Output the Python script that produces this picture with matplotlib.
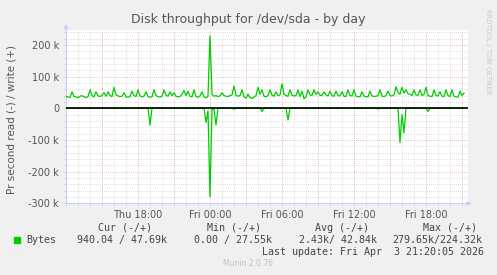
import numpy as np
import pandas as pd
import matplotlib
matplotlib.use("Agg")
import matplotlib.pyplot as plt
import matplotlib.dates as mdates

# 10 minute samples, Thu 12:00 -> Fri 21:10, values in kB/s
start = "2026-04-02 12:00"
write_k = [38, 35, 34, 52, 37, 36, 33, 38, 40, 36, 34, 37, 58, 40, 36, 52, 39, 37, 41, 49,
           38, 52, 40, 37, 66, 42, 39, 37, 38, 49, 36, 35, 37, 54, 40, 37, 58, 39, 36, 38,
           52, 37, 35, 36, 58, 40, 37, 35, 38, 58, 41, 38, 52, 40, 49, 38, 36, 37, 44, 56,
           40, 54, 38, 36, 58, 37, 35, 39, 52, 36, 33, 38, 228, 44, 38, 40, 37, 39, 49, 40,
           38, 37, 40, 42, 70, 41, 38, 40, 58, 36, 32, 45, 33, 31, 35, 40, 66, 44, 58, 38,
           36, 40, 58, 41, 38, 52, 40, 42, 77, 44, 40, 38, 58, 41, 39, 40, 58, 37, 54, 30,
           36, 58, 42, 40, 58, 44, 52, 41, 40, 52, 42, 39, 54, 40, 38, 54, 40, 39, 52, 38,
           37, 58, 40, 39, 58, 38, 37, 36, 52, 38, 37, 36, 54, 39, 37, 38, 40, 58, 38, 37,
           40, 54, 40, 39, 42, 68, 50, 44, 66, 48, 58, 46, 44, 40, 58, 42, 41, 58, 40, 44,
           66, 40, 38, 37, 58, 40, 39, 52, 38, 37, 58, 40, 37, 58, 38, 36, 35, 54, 40, 47.7]
read_k = [0, 0, 0, 0, 0, 0, 0, 0, 0, 0, 0, 0, 0, 0, 0, 0, 0, 0, 0, 0,
          0, 0, 0, 0, 0, 0, 0, 0, 0, 0, 0, 0, 0, 0, 0, 0, 0, 0, 0, 0,
          0, 0, 53, 0, 0, 0, 0, 0, 0, 0, 0, 0, 0, 0, 0, 0, 0, 0, 0, 0,
          0, 0, 0, 0, 0, 0, 0, 0, 0, 0, 45, 8, 279.65, 4, 3, 53, 0, 0, 0, 0,
          0, 0, 0, 0, 3, 0, 0, 0, 0, 0, 0, 0, 0, 0, 0, 0, 0, 0, 10, 0,
          0, 0, 0, 0, 0, 0, 0, 0, 0, 0, 0, 37, 0, 0, 0, 0, 0, 0, 0, 0,
          0, 0, 0, 0, 0, 0, 0, 0, 0, 0, 0, 0, 0, 0, 0, 0, 0, 0, 0, 0,
          0, 0, 0, 0, 0, 0, 0, 0, 0, 0, 0, 0, 0, 0, 0, 0, 2, 0, 0, 0,
          0, 0, 0, 0, 0, 0, 0, 108, 20, 77, 0, 0, 0, 0, 0, 0, 0, 0, 0, 0,
          0, 10, 0, 0, 0, 0, 0, 0, 0, 0, 0, 0, 0, 0, 0, 0, 0, 0, 0, 0.94]

y_ticks = [-300, -200, -100, 0, 100, 200]
y_labels = ["-300 k", "-200 k", "-100 k", "0", "100 k", "200 k"]
x_labels = ["Thu 18:00", "Fri 00:00", "Fri 06:00", "Fri 12:00", "Fri 18:00"]
legend_heads = ["Cur (-/+)", "Min (-/+)", "Avg (-/+)", "Max (-/+)"]
legend_vals = ["940.04 / 47.69k", "0.00 / 27.55k", "2.43k/ 42.84k", "279.65k/224.32k"]
last_update = "Last update: Fri Apr  3 21:20:05 2026"

W, H = 497, 275
bg = "#f0f0f0"
green = "#00cc00"
txt = "#555555"
axis_col = "#c8d0f8"


def px(x, y):
    return x / W, 1 - y / H


fig = plt.figure(figsize=(W / 100, H / 100), dpi=100, facecolor=bg)
l, r, top, bot = 66, 468, 30, 203.3
ax = fig.add_axes([l / W, 1 - bot / H, (r - l) / W, (bot - top) / H])
ax.set_facecolor("white")

times = pd.date_range(start, periods=len(write_k), freq="10min")
ax.plot(times, write_k, color=green, lw=0.9, zorder=4)
ax.plot(times, -np.array(read_k), color=green, lw=0.9, zorder=4)
ax.axhline(0, color="black", lw=1.2, zorder=5)

t0 = pd.Timestamp(start)
ax.set_xlim(t0, t0 + pd.Timedelta(hours=33.5))
ax.set_ylim(-300, 247)

ax.set_yticks(y_ticks)
ax.set_yticklabels(y_labels)
ax.set_yticks(np.arange(-300, 241, 20), minor=True)
ax.set_xticks([t0 + pd.Timedelta(hours=6 * (i + 1)) for i in range(len(x_labels))])
ax.set_xticklabels(x_labels)
ax.xaxis.set_minor_locator(mdates.HourLocator())

# grid like rrdtool: grey minor, red major
dots = (0, (1, 1.5))
for yv in np.arange(-280, 241, 20):
    major = yv % 100 == 0
    ax.axhline(yv, color="#e2a4a4" if major else "#d2d2d2", lw=0.6, ls=dots, zorder=1)
for h in range(1, 34):
    ax.axvline(t0 + pd.Timedelta(hours=h), color="#e2a4a4" if h % 3 == 0 else "#d2d2d2",
               lw=0.6, ls=dots, zorder=1)

for s in ["top", "right"]:
    ax.spines[s].set_visible(False)
for s in ["left", "bottom"]:
    ax.spines[s].set_color(axis_col)
    ax.spines[s].set_linewidth(0.8)
ax.tick_params(which="both", colors=axis_col, labelcolor=txt, labelsize=7, length=2, width=0.6)
ax.tick_params(axis="x", pad=3)
ax.tick_params(axis="y", pad=3)

# axis arrows
ax.annotate("", xy=(0, 1.05), xytext=(0, 0.98), xycoords="axes fraction",
            arrowprops=dict(arrowstyle="-|>", color=axis_col, lw=0.8, mutation_scale=6), annotation_clip=False)
ax.annotate("", xy=(1.016, 0), xytext=(0.99, 0), xycoords="axes fraction",
            arrowprops=dict(arrowstyle="-|>", color=axis_col, lw=0.8, mutation_scale=6), annotation_clip=False)

fig.text(*px(248, 19), "Disk throughput for /dev/sda - by day", ha="center", va="center",
         fontsize=9, color=txt)
fig.text(*px(12, 119), "Pr second read (-) / write (+)", ha="center", va="center",
         rotation=90, fontsize=7.5, color=txt)
fig.text(*px(488, 52), "RRDTOOL / TOBI OETIKER", ha="center", va="center", rotation=270,
         fontsize=4.8, color="#c8c8c8")

mono = "DejaVu Sans Mono"
lc = "#444444"
for s, x in zip(legend_heads, [98, 207, 315, 423]):
    fig.text(*px(x, 228), s, fontsize=7.2, family=mono, color=lc, va="center")
fig.patches.append(plt.Rectangle(px(14, 243), 6 / W, 6 / H, transform=fig.transFigure,
                                 color=green, figure=fig))
fig.text(*px(26, 240), "Bytes", fontsize=7.2, family=mono, color=lc, va="center")
for s, x in zip(legend_vals, [77, 194, 299, 392]):
    fig.text(*px(x, 240), s, fontsize=7.2, family=mono, color=lc, va="center")
fig.text(*px(484, 252), last_update, fontsize=7.2, family=mono, color=lc, va="center", ha="right")
fig.text(*px(248, 264), "Munin 2.0.76", fontsize=5.5, color="#c0c0c0", ha="center", va="center")

fig.savefig("out.png", dpi=100, facecolor=bg)
